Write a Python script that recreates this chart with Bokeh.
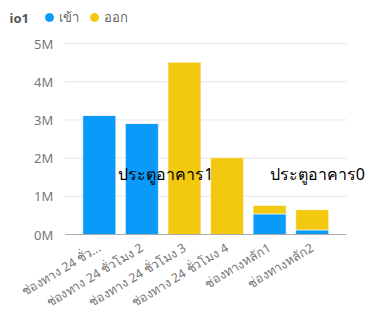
import math
from bokeh.plotting import figure
from bokeh.models import Range1d, Label, Legend, LegendItem, ColumnDataSource
from bokeh.core.properties import value
from bokeh.embed import file_html
from bokeh.resources import INLINE

categories = ["ช่องทาง 24 ชั่ว...", "ช่องทาง 24 ชั่วโมง 2", "ช่องทาง 24 ชั่วโมง 3",
              "ช่องทาง 24 ชั่วโมง 4", "ช่องทางหลัก1", "ช่องทางหลัก2"]
series_names = ["เข้า", "ออก"]
in_values = [3.12e6, 2.91e6, 0, 0, 0.54e6, 0.12e6]
out_values = [0, 0, 4.51e6, 2.01e6, 0.22e6, 0.53e6]
y_ticks = [0, 1e6, 2e6, 3e6, 4e6, 5e6]
y_tick_labels = ["0M", "1M", "2M", "3M", "4M", "5M"]
group_labels = ["ประตูอาคาร1", "ประตูอาคาร0"]
legend_title = "io1"

colors = ["#0A9BFA", "#F2C811"]
FONT = "Noto Sans"
GRID = "#e6e6e6"
AXIS = "#aaaaaa"
TICK_TEXT = "#777777"

W, H = 366, 314
xs = list(range(len(categories)))
pad = 0.3
plot_x0 = xs[0] - 0.5 - pad          # left edge of the category area
plot_x1 = xs[-1] + 0.5 + pad         # right edge of the category area

# The frame fills the whole canvas so that texts outside the category area are not clipped;
# ranges are extended so that the category area sits at the reference position.
p = figure(width=W, height=H, output_backend="svg", toolbar_location=None,
           x_range=Range1d(-2.32, 6.275), y_range=Range1d(-2.094e6, 6.126e6),
           min_border=0, x_axis_type=None, y_axis_type=None)
p.outline_line_color = None
p.grid.visible = False

# grid lines
p.segment(x0=[plot_x0] * len(y_ticks), x1=[plot_x1] * len(y_ticks),
          y0=y_ticks, y1=y_ticks, line_color=GRID, line_width=1)

# bars
source = ColumnDataSource(dict(x=xs, inp=in_values, out=out_values))
p.vbar_stack(["inp", "out"], x="x", width=0.775, color=colors, source=source,
             line_color="white", line_width=0.6)

# x axis line
p.segment(x0=[plot_x0], x1=[plot_x1], y0=[y_ticks[0]], y1=[y_ticks[0]],
          line_color=AXIS, line_width=1)

# y tick labels
p.text(x=[plot_x0] * len(y_ticks), y=y_ticks, text=y_tick_labels, x_offset=-12,
       text_align="right", text_baseline="middle", text_font=value(FONT),
       text_font_size="13px", text_color=TICK_TEXT)

# x tick labels (rotated)
p.text(x=xs, y=[y_ticks[0]] * len(xs), text=categories, y_offset=12,
       angle=math.radians(31), text_align="right", text_baseline="middle",
       text_font=value(FONT), text_font_size="12.5px", text_color=TICK_TEXT)

# group labels
for txt, xpos in zip(group_labels, [1.56, 5.12]):
    p.add_layout(Label(x=xpos, y=1.58e6, text=txt, text_align="center",
                       text_baseline="middle", text_font=FONT, text_font_size="16px",
                       text_color="#000000"))

# legend (legend-only renderers with a single NaN point, so nothing is drawn in the plot)
nan = float("nan")
r_in = p.scatter([nan], [nan], marker="circle", color=colors[0])
r_out = p.scatter([nan], [nan], marker="circle", color=colors[1])
legend = Legend(items=[LegendItem(label=series_names[0], renderers=[r_in]),
                       LegendItem(label=series_names[1], renderers=[r_out])],
                orientation="horizontal", location=(38.7, 286.3),
                padding=0, margin=0, spacing=5, glyph_width=20, glyph_height=20,
                label_standoff=0, border_line_color=None, background_fill_alpha=0,
                label_text_font=FONT, label_text_font_size="13px",
                label_text_color="#666666")
p.add_layout(legend, "center")
p.add_layout(Label(x=9, y=296.5, x_units="screen", y_units="screen", text=legend_title,
                   text_baseline="middle", text_font=FONT, text_font_size="13px",
                   text_font_style="bold", text_color="#555555"))

open("out.html", "w").write(file_html(p, INLINE))
